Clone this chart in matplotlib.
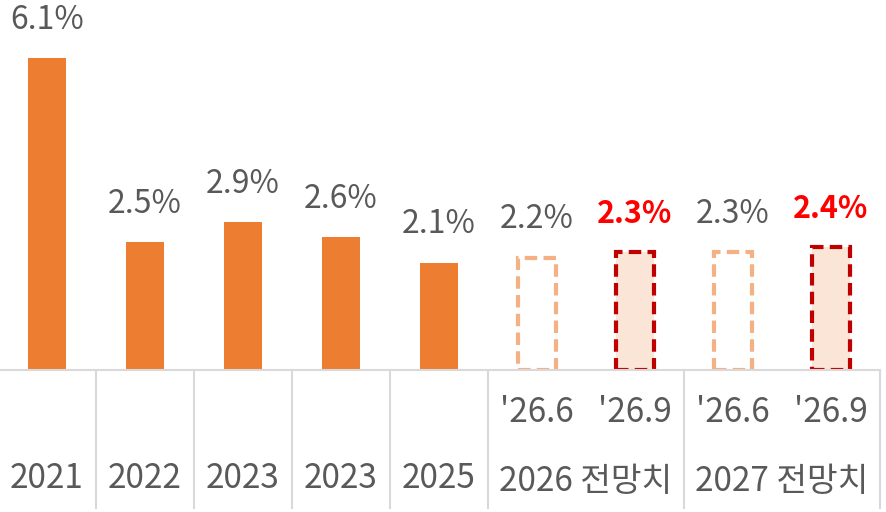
import matplotlib
matplotlib.use("Agg")
import matplotlib.pyplot as plt
from matplotlib.transforms import blended_transform_factory

plt.rcParams['font.family'] = ['Noto Sans CJK KR', 'DejaVu Sans']

# data
years = ["2021", "2022", "2023", "2023", "2025"]
actual = [6.1, 2.5, 2.9, 2.6, 2.1]
outlook_labels = ["'26.6", "'26.9", "'26.6", "'26.9"]
outlook = [2.2, 2.3, 2.3, 2.4]
groups = ["2026 전망치", "2027 전망치"]

ORANGE = "#ED7D31"
LIGHT_ORANGE = "#F4B183"
DARK_RED = "#C00000"
PALE = "#FBE5D6"
GRAY = "#595959"
LINE = "#D9D9D9"

fig = plt.figure(figsize=(8.87, 5.12), dpi=100)
ax = fig.add_axes([-2 / 887, 142 / 512, 882 / 887, 370 / 512])
ax.set_xlim(-0.5, 8.5)
ax.set_ylim(0, 370 / 51.1)
ax.axis("off")

w = 0.38
xa = list(range(len(actual)))
ax.bar(xa, actual, width=w, color=ORANGE)
for x, v in zip(xa, actual):
    ax.annotate(f"{v}%", (x, v), xytext=(0, 16), textcoords="offset points",
                ha="center", va="bottom", fontsize=23, color=GRAY)

xo = [len(actual) + i for i in range(len(outlook))]
for i, (x, v) in enumerate(zip(xo, outlook)):
    latest = i % 2 == 1
    ax.bar(x, v, width=w, facecolor=PALE if latest else "white",
           edgecolor=DARK_RED if latest else LIGHT_ORANGE,
           linewidth=3, linestyle=(0, (3, 1.5)))
    ax.annotate(f"{v}%", (x, v), xytext=(0, 16), textcoords="offset points",
                ha="center", va="bottom", fontsize=23 if not latest else 22,
                color="#FF0000" if latest else GRAY,
                fontweight="bold" if latest else "normal")

# category table under the bars
tr = blended_transform_factory(ax.transData, ax.transAxes)
bottom = -138 / 370
ax.plot([-0.5, 8.5], [0, 0], transform=tr, color=LINE, lw=1.5, clip_on=False)
for d in [0.5, 1.5, 2.5, 3.5, 4.5, 6.5, 8.5]:
    ax.plot([d, d], [0, bottom], transform=tr, color=LINE, lw=1.5, clip_on=False)

for x, t in zip(xa, years):
    ax.text(x, -108 / 370, t, transform=tr, ha="center", va="center",
            fontsize=24, color=GRAY)
for x, t in zip(xo, outlook_labels):
    ax.text(x, -42 / 370, t, transform=tr, ha="center", va="center",
            fontsize=24, color=GRAY)
for g, t in enumerate(groups):
    ax.text(xo[2 * g] + 0.5, -112 / 370, t, transform=tr, ha="center",
            va="center", fontsize=24, color=GRAY)

fig.savefig("out.png", dpi=100)
